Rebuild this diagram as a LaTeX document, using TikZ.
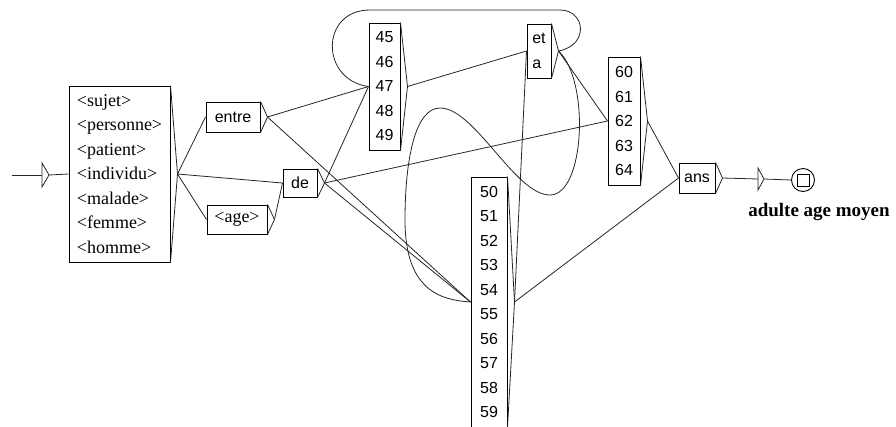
\documentclass[tikz,border=0pt]{standalone}
\usepackage{fontspec}
\setmainfont{Liberation Serif}
\newfontfamily\boxsans{Liberation Sans}
\usetikzlibrary{positioning}

\tikzset{
  grbox/.style={draw, rectangle, inner sep=0pt, align=center, line width=1pt},
  tagtext/.style={font=\fontsize{18}{24.5}\selectfont},
  numtext/.style={font=\boxsans\fontsize{16}{24.5}\selectfont},
  edge/.style={line width=0.8pt, black!85},
}

\begin{document}
\begin{tikzpicture}[x=1pt,y=-1pt]
  \useasboundingbox (0,0) rectangle (896,426);

  % Boxes
  \node[grbox, tagtext, align=left, minimum width=101pt, minimum height=176pt] (list) at (119.5,174)
     {<sujet>\\<personne>\\<patient>\\<individu>\\<malade>\\<femme>\\<homme>};
  \node[grbox, numtext, minimum width=54pt, minimum height=30pt] (entre) at (233,117) {entre};
  \node[grbox, numtext, minimum width=34pt, minimum height=28pt] (de) at (300,183) {de};
  \node[grbox, tagtext, minimum width=60pt, minimum height=29pt] (age) at (237,219.5) {<age>};
  \node[grbox, numtext, minimum width=31pt, minimum height=127pt] (nA) at (384.5,86.5) {45\\46\\47\\48\\49};
  \node[grbox, numtext, align=left, minimum width=24pt, minimum height=54pt] (eta) at (539,51) {et\\a};
  \node[grbox, numtext, minimum width=36pt, minimum height=250pt] (nB) at (489,302)
     {50\\51\\52\\53\\54\\55\\56\\57\\58\\59};
  \node[grbox, numtext, minimum width=32pt, minimum height=128pt] (nC) at (624,121) {60\\61\\62\\63\\64};
  \node[grbox, numtext, minimum width=36pt, minimum height=30pt] (ans) at (697,178) {ans};

  % Output brackets
  \foreach \n in {list,entre,de,age,nA,eta,nB,nC,ans}
     {\coordinate (\n-o) at ([xshift=7pt]\n.east);
      \draw[edge] (\n.north east) -- (\n-o) -- (\n.south east);}

  % Initial and final states
  \coordinate (start) at (12,175);
  \coordinate (initT) at (42,175);
  \coordinate (initP) at (49,175);
  \draw[edge] (initT) -- ++(0,-12) -- (initP) -- ++(-7,12) -- cycle;
  \draw[edge] (start) -- (initT);
  \draw[edge] (initP) -- (list.west);

  \coordinate (endT) at (758,179);
  \coordinate (endP) at (764,179);
  \draw[edge] (endT) -- ++(0,-11) -- (endP) -- ++(-6,11) -- cycle;
  \node[draw, circle, line width=0.9pt, minimum size=23pt, inner sep=0pt] (final) at (803,180) {};
  \node[draw, line width=0.9pt, minimum size=12pt, inner sep=0pt] (finalsq) at (final) {};
  \node[font=\bfseries\fontsize{19}{22}\selectfont] (lbl) at (819,212) {adulte age moyen};
  \draw[edge] (ans-o) -- (endT);
  \draw[edge] (endP) -- (final.west);

  % Transitions
  \foreach \a/\b in {list/entre, list/de, list/age, entre/nA, entre/nB, de/nA, de/nB, de/nC,
                     age/de, nA/eta, nB/eta, nB/ans, eta/nC, nC/ans}
     \draw[edge] (\a-o) -- (\b.west);

  % Loops back from et/a
  \draw[edge] (eta-o) .. controls (590,45) and (585,10) .. (560,10) -- (370,10)
     .. controls (320,10) and (320,80) .. (nA.west);
  \draw[edge] (eta-o) .. controls (590,80) and (585,195) .. (550,195)
     .. controls (515,195) and (475,108) .. (440,108)
     .. controls (415,108) and (405,160) .. (405,220)
     .. controls (405,290) and (440,300) .. (nB.west);
\end{tikzpicture}
\end{document}
